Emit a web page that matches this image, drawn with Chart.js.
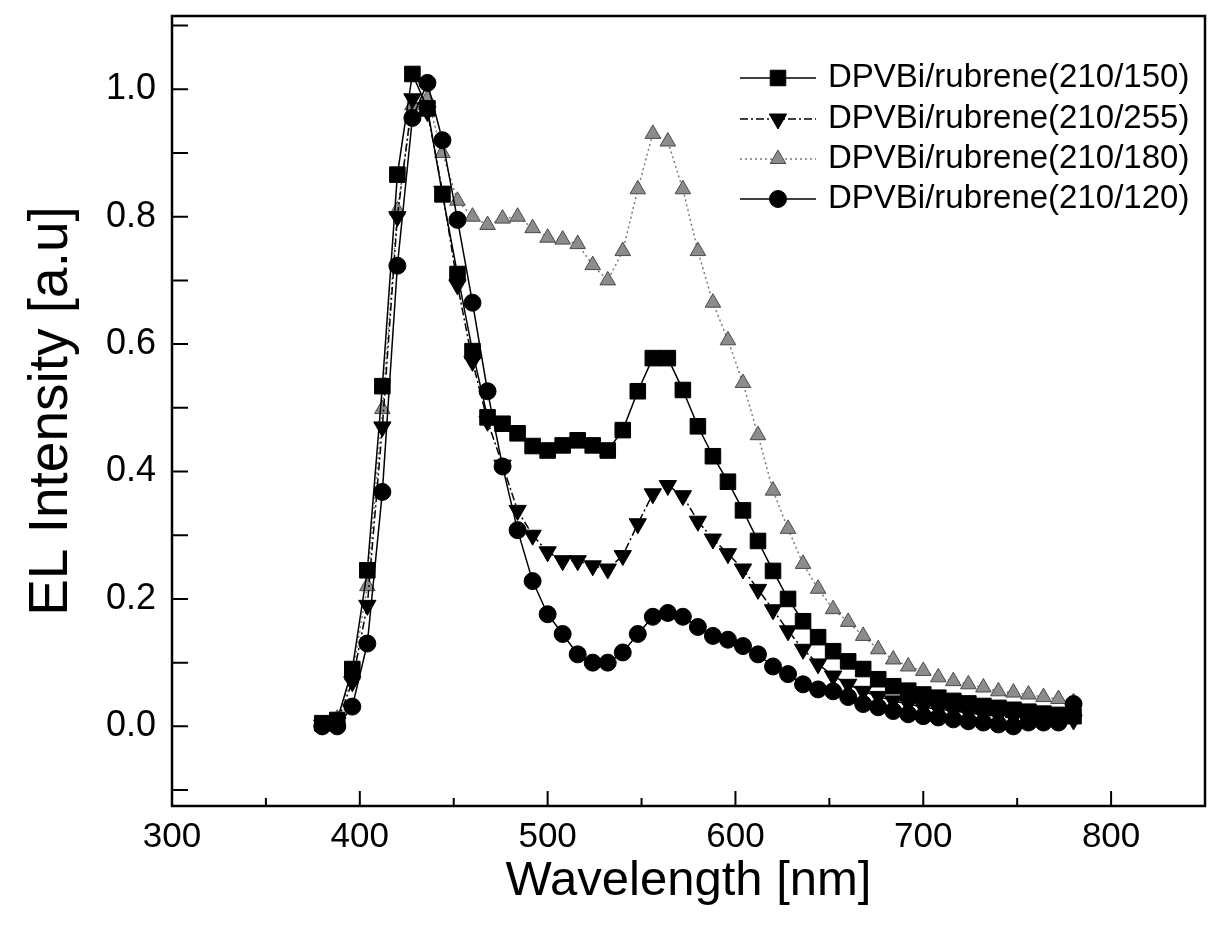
<!DOCTYPE html>
<html>
<head>
<meta charset="utf-8">
<script src="https://cdn.jsdelivr.net/npm/chart.js@4.4.0/dist/chart.umd.min.js"></script>
<style>
  html, body { margin: 0; padding: 0; background: #fff; }
  #wrap { width: 1217px; height: 943px; position: relative; }
</style>
</head>
<body>
<div id="wrap"><canvas id="chartEL"></canvas></div>
<script>
const wavelength = [380, 388, 396, 404, 412, 420, 428, 436, 444, 452, 460, 468, 476, 484, 492, 500, 508, 516, 524, 532, 540, 548, 556, 564, 572, 580, 588, 596, 604, 612, 620, 628, 636, 644, 652, 660, 668, 676, 684, 692, 700, 708, 716, 724, 732, 740, 748, 756, 764, 772, 780];

const el150 = [0.005, 0.01, 0.09, 0.245, 0.534, 0.866, 1.024, 0.97, 0.835, 0.71, 0.589, 0.485, 0.475, 0.46, 0.44, 0.433, 0.441, 0.449, 0.441, 0.433, 0.465, 0.526, 0.578, 0.578, 0.528, 0.471, 0.424, 0.384, 0.339, 0.291, 0.244, 0.2, 0.165, 0.14, 0.118, 0.102, 0.09, 0.074, 0.063, 0.056, 0.05, 0.045, 0.04, 0.036, 0.032, 0.029, 0.026, 0.023, 0.02, 0.018, 0.016];
const el255 = [0.002, 0.006, 0.07, 0.19, 0.47, 0.8, 0.985, 0.965, 0.84, 0.693, 0.573, 0.479, 0.41, 0.339, 0.3, 0.274, 0.26, 0.26, 0.252, 0.247, 0.268, 0.318, 0.365, 0.378, 0.362, 0.322, 0.294, 0.271, 0.247, 0.215, 0.183, 0.15, 0.121, 0.098, 0.079, 0.066, 0.055, 0.047, 0.04, 0.035, 0.03, 0.027, 0.024, 0.021, 0.018, 0.016, 0.014, 0.012, 0.011, 0.01, 0.01];
const el180 = [0.003, 0.012, 0.08, 0.22, 0.498, 0.81, 0.975, 0.985, 0.9, 0.825, 0.8, 0.787, 0.797, 0.8, 0.782, 0.767, 0.764, 0.757, 0.724, 0.7, 0.746, 0.843, 0.93, 0.918, 0.843, 0.746, 0.665, 0.606, 0.539, 0.457, 0.37, 0.31, 0.255, 0.216, 0.184, 0.164, 0.142, 0.121, 0.105, 0.094, 0.087, 0.077, 0.071, 0.066, 0.061, 0.055, 0.053, 0.05, 0.046, 0.043, 0.038];
const el120 = [0.0, 0.0, 0.031, 0.13, 0.368, 0.723, 0.955, 1.01, 0.92, 0.795, 0.665, 0.526, 0.408, 0.308, 0.228, 0.176, 0.145, 0.113, 0.1, 0.1, 0.116, 0.145, 0.172, 0.178, 0.172, 0.156, 0.142, 0.136, 0.126, 0.113, 0.094, 0.082, 0.066, 0.058, 0.055, 0.046, 0.035, 0.03, 0.024, 0.019, 0.016, 0.014, 0.011, 0.008, 0.006, 0.003, 0.0, 0.006, 0.006, 0.006, 0.035];

const seriesNames = ["DPVBi/rubrene(210/150)", "DPVBi/rubrene(210/255)", "DPVBi/rubrene(210/180)", "DPVBi/rubrene(210/120)"];
const xTickValues = [300, 400, 500, 600, 700, 800];
const xMinorTicks = [350, 450, 550, 650, 750];
const yTickValues = [0, 0.2, 0.4, 0.6, 0.8, 1.0];
const yMinorTicks = [-0.1, 0.1, 0.3, 0.5, 0.7, 0.9, 1.1];

const FONT = "'Liberation Sans', Arial, sans-serif";
Chart.defaults.font.family = FONT;
Chart.defaults.color = "#000";

const toPoints = (vals) => vals.map((v, i) => ({ x: wavelength[i], y: v }));

// inward ticks + box frame, and the legend drawn inside the plot
const frameTicks = {
  id: "frameTicks",
  afterDatasetsDraw(chart) {
    const { ctx, chartArea: a, scales: { x, y } } = chart;
    ctx.save();
    ctx.strokeStyle = "#000";
    ctx.lineWidth = 2;
    ctx.beginPath();
    xTickValues.forEach((v) => {
      const px = x.getPixelForValue(v);
      if (px <= a.left + 1) return;
      ctx.moveTo(px, a.bottom);
      ctx.lineTo(px, a.bottom - 15);
    });
    xMinorTicks.forEach((v) => {
      const px = x.getPixelForValue(v);
      ctx.moveTo(px, a.bottom);
      ctx.lineTo(px, a.bottom - 8);
    });
    yTickValues.concat(yMinorTicks).forEach((v) => {
      const py = y.getPixelForValue(v);
      ctx.moveTo(a.left, py);
      ctx.lineTo(a.left + 16, py);
    });
    ctx.stroke();
    ctx.lineWidth = 2.5;
    ctx.strokeRect(a.left, a.top, a.right - a.left, a.bottom - a.top);
    ctx.restore();
  },
  afterDraw(chart) {
    const { ctx } = chart;
    const rows = [78, 119, 159, 199];
    ctx.save();
    chart.data.datasets.forEach((ds, i) => {
      const yy = rows[i];
      ctx.strokeStyle = ds.borderColor;
      ctx.lineWidth = 1.5;
      ctx.setLineDash(ds.borderDash || []);
      ctx.beginPath();
      ctx.moveTo(740, yy);
      ctx.lineTo(816, yy);
      ctx.stroke();
      ctx.setLineDash([]);
      ctx.fillStyle = ds.pointBackgroundColor;
      ctx.strokeStyle = ds.pointBorderColor;
      ctx.lineWidth = ds.pointBorderWidth;
      Chart.helpers.drawPoint(ctx, {
        pointStyle: ds.pointStyle,
        rotation: ds.pointRotation || 0,
        radius: ds.pointRadius,
        borderWidth: ds.pointBorderWidth,
      }, 778, yy);
      ctx.fillStyle = "#000";
      ctx.font = "33px " + FONT;
      ctx.textAlign = "left";
      ctx.textBaseline = "middle";
      ctx.fillText(seriesNames[i], 828, yy);
    });
    ctx.restore();
  },
};

new Chart(document.querySelector("#chartEL"), {
  type: "line",
  data: {
    datasets: [
      {
        label: seriesNames[0],
        data: toPoints(el150),
        borderColor: "#000",
        borderWidth: 1.5,
        pointStyle: "rect",
        pointRadius: 11,
        pointBackgroundColor: "#000",
        pointBorderColor: "#000",
        pointBorderWidth: 1,
        tension: 0,
        order: 1,
      },
      {
        label: seriesNames[1],
        data: toPoints(el255),
        borderColor: "#000",
        borderWidth: 1.5,
        borderDash: [8, 3, 2, 3],
        pointStyle: "triangle",
        pointRotation: 180,
        pointRadius: 10,
        pointBackgroundColor: "#000",
        pointBorderColor: "#000",
        pointBorderWidth: 1,
        tension: 0,
        order: 2,
      },
      {
        label: seriesNames[2],
        data: toPoints(el180),
        borderColor: "#7a7a7a",
        borderWidth: 1.5,
        borderDash: [2, 3],
        pointStyle: "triangle",
        pointRadius: 9,
        pointBackgroundColor: "#8c8c8c",
        pointBorderColor: "#4a4a4a",
        pointBorderWidth: 1,
        tension: 0,
        order: 3,
      },
      {
        label: seriesNames[3],
        data: toPoints(el120),
        borderColor: "#000",
        borderWidth: 1.5,
        pointStyle: "circle",
        pointRadius: 8.5,
        pointBackgroundColor: "#000",
        pointBorderColor: "#000",
        pointBorderWidth: 1,
        tension: 0,
        order: 0,
      },
    ],
  },
  options: {
    responsive: true,
    maintainAspectRatio: false,
    animation: false,
    layout: { padding: { top: 16, right: 8, left: 0, bottom: 0 } },
    scales: {
      x: {
        type: "linear",
        min: 300,
        max: 850,
        grid: { display: false, drawTicks: false },
        border: { display: false },
        afterBuildTicks: (s) => { s.ticks = xTickValues.map((v) => ({ value: v })); },
        afterFit: (s) => { s.height = 137; s.paddingLeft = 0; s.paddingRight = 0; },
        ticks: {
          autoSkip: false,
          maxRotation: 0,
          padding: 10,
          font: { size: 35 },
          callback: (v) => String(v),
        },
        title: {
          display: true,
          text: "Wavelength [nm]",
          font: { size: 49 },
          padding: { top: 0, bottom: 32 },
        },
      },
      y: {
        min: -0.125,
        max: 1.115,
        grid: { display: false, drawTicks: false },
        border: { display: false },
        afterBuildTicks: (s) => { s.ticks = yTickValues.map((v) => ({ value: v })); },
        afterFit: (s) => { s.width = 172; s.paddingTop = 0; s.paddingBottom = 0; },
        ticks: {
          autoSkip: false,
          padding: 16,
          font: { size: 36 },
          callback: (v) => Number(v).toFixed(1),
        },
        title: {
          display: true,
          text: "EL Intensity [a.u]",
          font: { size: 55 },
          padding: { top: 19, bottom: 0 },
        },
      },
    },
    plugins: {
      legend: { display: false },
      tooltip: { enabled: false },
    },
  },
  plugins: [frameTicks],
});
</script>
</body>
</html>
